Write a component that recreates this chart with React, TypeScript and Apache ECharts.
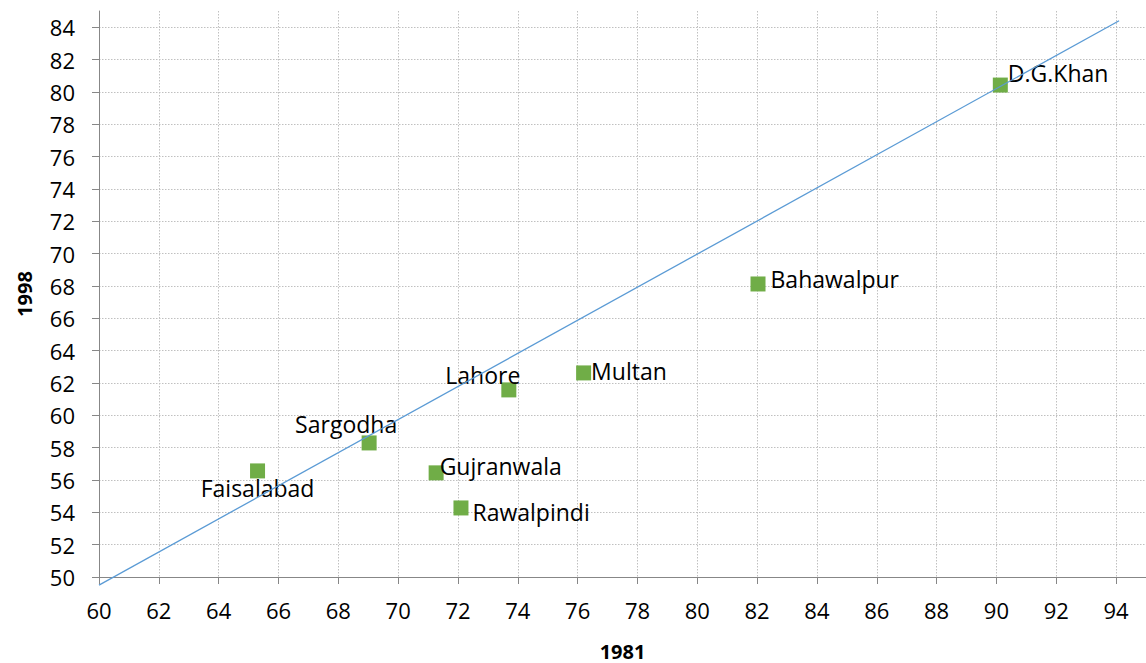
import React, { useEffect, useRef } from "react";
import * as echarts from "echarts";

const cities = ["Faisalabad", "Sargodha", "Gujranwala", "Rawalpindi", "Lahore", "Multan", "Bahawalpur", "D.G.Khan"];
const values1981 = [65.3, 69.03, 71.27, 72.1, 73.7, 76.2, 82.03, 90.13];
const values1998 = [56.56, 58.29, 56.44, 54.27, 61.57, 62.62, 68.12, 80.42];
const trendX = [60, 94.1];
const trendY = [49.5, 84.4];

const labelPlacement: Record<string, any> = {
  Faisalabad: { position: "inside", offset: [0, 17] },
  Sargodha: { position: "inside", offset: [-23, -19] },
  Gujranwala: { position: "right", distance: -4, offset: [0, -7] },
  Rawalpindi: { position: "right", distance: 4, offset: [0, 4] },
  Lahore: { position: "inside", offset: [-26, -15] },
  Multan: { position: "right", distance: 0, offset: [0, -2] },
  Bahawalpur: { position: "right", distance: 5, offset: [0, -5] },
  "D.G.Khan": { position: "right", distance: 0, offset: [0, -12] },
};

const FONT = "'Open Sans', 'Noto Sans', sans-serif";

export default function App() {
  const ref = useRef<HTMLDivElement>(null);
  useEffect(() => {
    if (!ref.current) return;
    const chart = echarts.init(ref.current, undefined, { renderer: "svg" });
    const axisCommon = {
      axisLine: { show: true, onZero: false, lineStyle: { color: "#878787", width: 1 } },
      axisTick: { show: true, length: 7, lineStyle: { color: "#878787" } },
      splitLine: { show: true, showMaxLine: false, lineStyle: { color: "#c0c0c0", type: [1.5, 1.5], width: 1 } },
      nameTextStyle: { fontFamily: FONT, fontSize: 20, lineHeight: 20, fontWeight: "bold", color: "#000" },
    };
    chart.setOption({
      animation: false,
      grid: { left: 99, right: 0, top: 11, bottom: 86, outerBoundsMode: "none", containLabel: false },
      xAxis: {
        type: "value",
        min: 60,
        max: 95,
        interval: 2,
        name: "1981",
        nameLocation: "middle",
        nameGap: 64,
        ...axisCommon,
        axisLabel: { showMaxLabel: false, margin: 22, fontFamily: FONT, fontSize: 22, color: "#000" },
      },
      yAxis: {
        type: "value",
        min: 50,
        max: 85,
        interval: 2,
        name: "1998",
        nameLocation: "middle",
        nameGap: 65,
        ...axisCommon,
        axisLabel: { showMaxLabel: false, margin: 24, fontFamily: FONT, fontSize: 22, color: "#000" },
      },
      series: [
        {
          type: "line",
          data: trendX.map((x, i) => [x, trendY[i]]),
          showSymbol: false,
          clip: false,
          lineStyle: { color: "#5b9bd5", width: 1.3 },
          z: 3,
        },
        {
          type: "scatter",
          symbol: "rect",
          symbolSize: 15,
          itemStyle: { color: "#70ad47", opacity: 1 },
          z: 2,
          label: {
            show: true,
            formatter: "{b}",
            fontFamily: FONT,
            fontSize: 23,
            color: "#000",
          },
          data: cities.map((name, i) => ({
            name,
            value: [values1981[i], values1998[i]],
            label: labelPlacement[name],
          })),
        },
      ],
    });
    return () => chart.dispose();
  }, []);
  return <div ref={ref} style={{ position: "absolute", left: 0, top: 0, width: 1146, height: 663 }} />;
}
